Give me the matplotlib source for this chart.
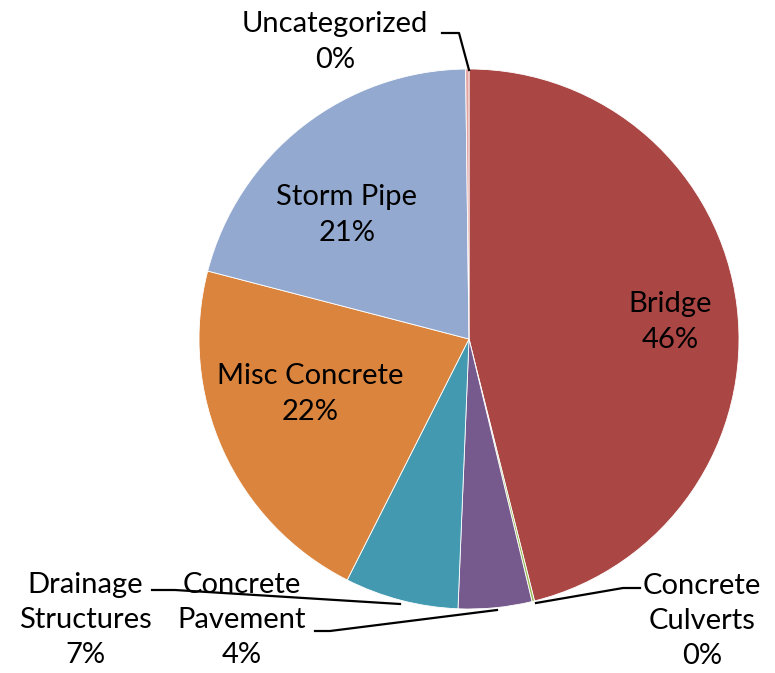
import matplotlib.pyplot as plt

# slice values (percent), clockwise from 12 o'clock
categories = ["Bridge", "Concrete\nCulverts", "Concrete\nPavement", "Drainage\nStructures",
              "Misc Concrete", "Storm Pipe", "Uncategorized"]
values = [46.1, 0.15, 4.4, 6.8, 21.6, 20.75, 0.2]
colors = ["#AA4644", "#9BBB59", "#765A8E", "#4299B0", "#DB843D", "#93A9CF", "#E3A4A2"]

H = 673
fig = plt.figure(figsize=(7.75, 6.73), dpi=100)
ax = fig.add_axes([0, 0, 1, 1])

cx, cy, r = 469, H - 339, 270
ax.pie(values, colors=colors, startangle=90, counterclock=False,
       center=(cx, cy), radius=r, frame=True,
       wedgeprops=dict(edgecolor="white", linewidth=0.6))
ax.set_xlim(0, 775)
ax.set_ylim(0, H)
ax.set_aspect("equal")
ax.axis("off")

font = dict(family="Lato", fontsize=21, ha="center", va="center", linespacing=1.45)
pct = [f"{round(v):.0f}%" for v in values]

# labels inside the larger slices
ax.text(670, H - 322, f"{categories[0]}\n{pct[0]}", **font)
ax.text(310, H - 394, f"{categories[4]}\n{pct[4]}", **font)
ax.text(347, H - 215, f"{categories[5]}\n{pct[5]}", **font)

# outside labels with leader lines
ax.text(335, H - 42, f"{categories[6]}\n{pct[6]}", **font)
ax.plot([442, 459, 469], [H - 33, H - 33, H - 70], color="black", lw=1.6)

ax.text(702, H - 621, f"{categories[1]}\n{pct[1]}", **font)
ax.plot([536, 623, 640], [H - 603, H - 588, H - 588], color="black", lw=1.6)

ax.text(242, H - 620, f"{categories[2]}\n{pct[2]}", **font)
ax.plot([315, 330, 497], [H - 631, H - 631, H - 610], color="black", lw=1.6)

ax.text(85, H - 620, f"{categories[3]}\n{pct[3]}", **font)
ax.plot([152, 175, 400], [H - 590, H - 590, H - 604], color="black", lw=1.6)

fig.savefig("out.png", dpi=100)
